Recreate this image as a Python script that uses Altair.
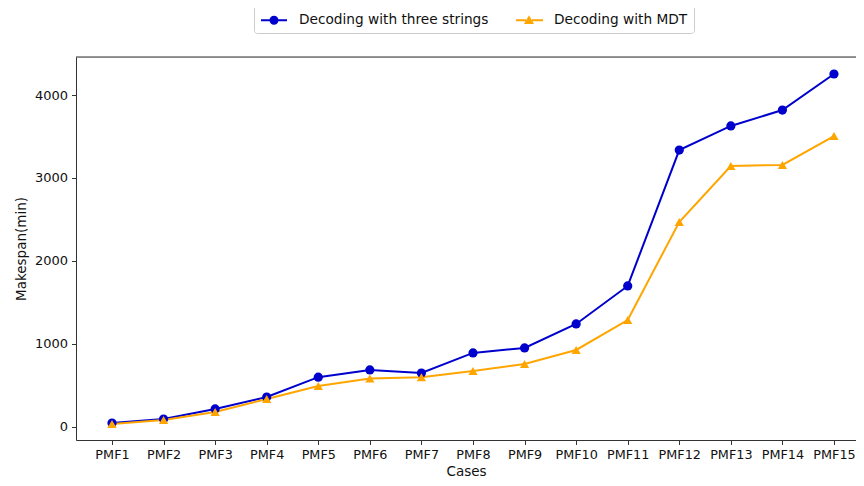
import json
import altair as alt
import pandas as pd

categories = ["PMF1", "PMF2", "PMF3", "PMF4", "PMF5", "PMF6", "PMF7", "PMF8",
              "PMF9", "PMF10", "PMF11", "PMF12", "PMF13", "PMF14", "PMF15"]
series_names = ["Decoding with three strings", "Decoding with MDT"]
three_strings = [48, 96, 217, 361, 600, 687, 650, 892, 952, 1241, 1699, 3337, 3627, 3819, 4253]
mdt = [36, 84, 181, 337, 494, 585, 600, 675, 759, 928, 1289, 2470, 3145, 3157, 3506]
y_ticks = [0, 1000, 2000, 3000, 4000]

rows = []
for i, c in enumerate(categories):
    rows.append({"idx": i + 1, "case": c, "series": series_names[0], "value": three_strings[i]})
    rows.append({"idx": i + 1, "case": c, "series": series_names[1], "value": mdt[i]})
df = pd.DataFrame(rows)

W, H = 780, 383
AXC = "#333333"
FONT = "DejaVu Sans"
colors = ["#0000CD", "#FFA500"]

label_expr = json.dumps(categories) + "[datum.value - 1]"

x_enc = alt.X("idx:Q",
              scale=alt.Scale(domain=[0.302, 15.427], nice=False, zero=False),
              axis=alt.Axis(values=list(range(1, 16)), labelExpr=label_expr, title="Cases",
                            grid=False, domainColor=AXC, tickColor=AXC, tickSize=4.5,
                            labelColor="#111", labelFontSize=12.8, labelFont=FONT,
                            titleFont=FONT, titleFontSize=13.5, titleFontWeight="normal",
                            titleColor="#111", labelPadding=4, titlePadding=3,
                            labelFlush=False, labelOverlap=False))
y_enc = alt.Y("value:Q",
              scale=alt.Scale(domain=[-157, 4458], nice=False, zero=False),
              axis=alt.Axis(values=y_ticks, format="d", title="Makespan(min)", grid=False,
                            domainColor=AXC, tickColor=AXC, tickSize=4.5,
                            labelColor="#111", labelFontSize=13, labelFont=FONT,
                            titleFont=FONT, titleFontSize=13.5, titleFontWeight="normal",
                            titleColor="#111", labelPadding=4, titlePadding=6))

base = alt.Chart(df)

lines = base.mark_line(strokeWidth=2).encode(
    x=x_enc, y=y_enc,
    color=alt.Color("series:N", scale=alt.Scale(domain=series_names, range=colors), legend=None),
    detail="series:N",
)

points = base.mark_point(filled=True, size=85, opacity=1).encode(
    x=x_enc, y=y_enc,
    color=alt.Color("series:N", scale=alt.Scale(domain=series_names, range=colors), legend=None),
    shape=alt.Shape("series:N", scale=alt.Scale(domain=series_names, range=["circle", "triangle-up"]), legend=None),
)

circle_sym = ("M-0.9,-0.1H0V0.1H-0.9Z M0.8,-0.1H1.7V0.1H0.8Z "
              "M0.85,0A0.45,0.45 0 1,1 -0.05,0A0.45,0.45 0 1,1 0.85,0Z")
tri_sym = ("M-0.9,-0.1H0.1V0.1H-0.9Z M0.7,-0.1H1.8V0.1H0.7Z "
           "M0.4,-0.5L0.9,0.38L-0.1,0.38Z")

legend = alt.Legend(orient="none", legendX=178, legendY=-53, direction="horizontal",
                    title=None, labelFont=FONT, labelFontSize=13.7, labelColor="#111",
                    symbolSize=400, symbolOpacity=1, symbolStrokeWidth=0,
                    labelOffset=19, columnPadding=26, padding=6,
                    strokeColor="#cccccc", fillColor="white", cornerRadius=3,
                    labelLimit=400)

legend_layer = base.transform_filter("false").mark_point(filled=True, size=400).encode(
    x=x_enc, y=y_enc,
    color=alt.Color("series:N", scale=alt.Scale(domain=series_names, range=colors), legend=legend),
    shape=alt.Shape("series:N", scale=alt.Scale(domain=series_names, range=[circle_sym, tri_sym]), legend=legend),
)

top_spine = alt.Chart(pd.DataFrame({"a": [0]})).mark_rule(color=AXC, strokeWidth=1).encode(
    x=alt.value(0), x2=alt.value(W), y=alt.value(0)
)

chart = alt.layer(lines, points, legend_layer, top_spine).resolve_scale(
    color="independent", shape="independent"
).properties(
    width=W, height=H,
    autosize=alt.AutoSizeParams(type="none"),
    padding={"left": 68, "top": 49, "right": 0, "bottom": 45},
).configure_view(stroke=None).configure(background="white")

chart.save("out.html", embed_options={"renderer": "svg", "actions": False})
